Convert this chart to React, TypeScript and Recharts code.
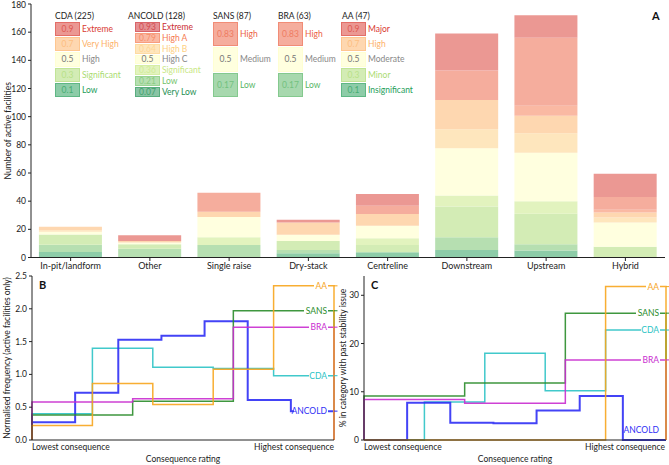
import React from "react";
import { BarChart, Bar, XAxis, YAxis, LineChart, Line, ReferenceDot } from "recharts";

const FONT = "Lato, 'Liberation Sans', Arial, sans-serif";
const INK = "#222";

// Panel A: dam types, stacked by normalised consequence level (bottom -> top)
const damTypes = ["In-pit/landform", "Other", "Single raise", "Dry-stack", "Centreline", "Downstream", "Upstream", "Hybrid"];
const levels = [0.1, 0.21, 0.3, 0.36, 0.5, 0.64, 0.7, 0.79, 0.83, 0.9];
const lvl010 = [3.9, 0, 0, 3.0, 3.7, 5.4, 4.9, 0];
const lvl021 = [5.2, 6.3, 8.9, 2.4, 0, 9.0, 4.5, 0];
const lvl030 = [7.2, 3.1, 0, 6.4, 5.2, 21.9, 21.7, 7.7];
const lvl036 = [0, 0, 5.5, 0, 4.8, 7.8, 8.8, 0];
const lvl050 = [1.9, 1.2, 14.3, 4.3, 8.8, 33.4, 34.5, 17.2];
const lvl064 = [1.2, 0, 0, 0, 0, 13.5, 13.8, 3.5];
const lvl070 = [2.4, 1.2, 3.8, 8.8, 8.4, 20.8, 12.4, 3.6];
const lvl079 = [0, 0, 0, 0, 0, 0, 7.1, 1.9];
const lvl083 = [0, 0, 13.4, 0, 5.9, 20.9, 48.3, 9.1];
const lvl090 = [0, 4.0, 0, 1.9, 8.3, 26.3, 16.0, 16.4];
const levelCounts = [lvl010, lvl021, lvl030, lvl036, lvl050, lvl064, lvl070, lvl079, lvl083, lvl090];
const countTicks = [0, 20, 40, 60, 80, 100, 120, 140, 160, 180];

// legend blocks (classification systems)
const cdaScores = [0.9, 0.7, 0.5, 0.3, 0.1];
const cdaNames = ["Extreme", "Very High", "High", "Significant", "Low"];
const ancoldScores = [0.93, 0.79, 0.64, 0.5, 0.36, 0.21, 0.07];
const ancoldNames = ["Extreme", "High A", "High B", "High C", "Significant", "Low", "Very Low"];
const sansScores = [0.83, 0.5, 0.17];
const sansNames = ["High", "Medium", "Low"];
const braScores = [0.83, 0.5, 0.17];
const braNames = ["High", "Medium", "Low"];
const aaScores = [0.9, 0.7, 0.5, 0.3, 0.1];
const aaNames = ["Major", "High", "Moderate", "Minor", "Insignificant"];

// Panel B: normalised frequency per class (lowest -> highest)
const cdaFreq = [0.40, 1.40, 1.11, 1.09, 0.98];
const ancoldFreq = [0.27, 0.72, 1.53, 1.59, 1.81, 0.61, 0.44];
const sansFreq = [0.38, 0.59, 1.97];
const braFreq = [0.58, 0.63, 1.72];
const aaFreq = [0.22, 0.86, 0.54, 1.08, 2.35];
const freqTicks = [0, 0.5, 1, 1.5, 2, 2.5];

// Panel C: % with past stability issue per class
const cdaPct = [0, 7.9, 18.0, 10.2, 22.8];
const ancoldPct = [0, 7.7, 3.6, 3.45, 6.1, 9.1, 0];
const sansPct = [9.1, 11.8, 26.3];
const braPct = [8.4, 7.6, 16.6];
const aaPct = [0, 0, 0, 0, 31.8];
const pctTicks = [0, 10, 20, 30];

const systems = ["CDA", "ANCOLD", "SANS", "BRA", "AA"];
const sysColors = ["#2cc3c5", "#2f2ff5", "#2a8c2a", "#c92ccf", "#f7a51d"];
const sysWidths = [1.5, 2, 1.5, 1.5, 1.5];

const RDYLGN = ["#a50026", "#d73027", "#f46d43", "#fdae61", "#fee08b", "#ffffbf", "#d9ef8b", "#a6d96a", "#66bd63", "#1a9850", "#006837"];
const hex2rgb = (h: string) => [1, 3, 5].map((i) => parseInt(h.slice(i, i + 2), 16));
function rdylgn(t: number) {
  const p = Math.min(Math.max(t, 0), 1) * 10;
  const i = Math.min(Math.floor(p), 9);
  const f = p - i;
  const a = hex2rgb(RDYLGN[i]);
  const b = hex2rgb(RDYLGN[i + 1]);
  return a.map((c, k) => c + (b[k] - c) * f);
}
// colour for a consequence score (reversed map), blended on white
function tint(v: number, alpha: number) {
  const c = rdylgn(1 - v).map((x) => Math.round(x * alpha + 255 * (1 - alpha)));
  return `rgb(${c.join(",")})`;
}

const barData = damTypes.map((name, i) => {
  const row: any = { name };
  levels.forEach((_, k) => (row[`l${k}`] = levelCounts[k][i]));
  return row;
});

const toSteps = (vals: number[]) => {
  const n = vals.length;
  const pts = [{ x: 0, y: 0 }];
  vals.forEach((v, i) => pts.push({ x: i / n, y: v }));
  pts.push({ x: 1, y: vals[n - 1] });
  pts.push({ x: 1, y: 0 });
  return pts;
};

const SideTitle = ({ viewBox, text, dx }: any) => {
  const cx = viewBox.x + dx;
  const cy = viewBox.y + viewBox.height / 2;
  return (
    <text x={cx} y={cy} transform={`rotate(-90 ${cx} ${cy})`} textAnchor="middle" dominantBaseline="central" fontSize={8.5} fill={INK} fontFamily={FONT}>
      {text}
    </text>
  );
};

const BottomTitle = ({ viewBox, text }: any) => (
  <text x={viewBox.x + viewBox.width / 2} y={viewBox.y + 19} textAnchor="middle" dominantBaseline="central" fontSize={8.5} fill={INK} fontFamily={FONT}>
    {text}
  </text>
);

const ConsTick = ({ x, y, payload }: any) => (
  <text x={x} y={y + 7} textAnchor={payload.value === 0 ? "start" : "end"} dominantBaseline="central" fontSize={8.5} fill={INK} fontFamily={FONT}>
    {payload.value === 0 ? "Lowest consequence" : "Highest consequence"}
  </text>
);

const EndTag = ({ viewBox, text, color, tick }: any) => {
  const x = viewBox.x;
  const y = viewBox.y;
  const w = text.length * 5 + 3;
  return (
    <g>
      <rect x={x - 7 - w} y={y - 5} width={w + 1} height={10} fill="#fff" />
      <text x={x - 7} y={y} textAnchor="end" dominantBaseline="central" fontSize={8.5} fill={color} fontFamily={FONT}>
        {text}
      </text>
      {tick && <line x1={x} x2={x + 3.5} y1={y} y2={y} stroke={color} strokeWidth={1} />}
    </g>
  );
};

const ScaleLegend = ({ left, titleLeft, title, scores, names }: any) => {
  const top = 22;
  const h = 76 / scores.length;
  return (
    <>
      <div style={{ position: "absolute", left: titleLeft, top: 10, fontSize: 8.5, lineHeight: "12px", color: INK, whiteSpace: "nowrap" }}>{title}</div>
      {scores.map((v: number, i: number) => (
        <React.Fragment key={i}>
          <div
            style={{
              position: "absolute", left, top: top + i * h, width: 25, height: h - 1, boxSizing: "border-box",
              background: tint(v, 0.5), border: `1px solid ${tint(v, 0.7)}`,
              display: "flex", alignItems: "center", justifyContent: "center",
              fontSize: 8.5, color: v === 0.5 ? "#777" : tint(v, 0.8),
            }}
          >
            {String(v)}
          </div>
          <div
            style={{
              position: "absolute", left: left + 27, top: top + i * h, height: h - 1,
              display: "flex", alignItems: "center", fontSize: 8.5, whiteSpace: "nowrap",
              color: v === 0.5 ? "#888" : tint(v, 0.95),
            }}
          >
            {names[i]}
          </div>
        </React.Fragment>
      ))}
    </>
  );
};

const frameAxes = [
  <XAxis key="ft" xAxisId="top" orientation="top" type="number" domain={[0, 1]} tick={false} tickLine={false} height={0} axisLine={{ stroke: INK }} />,
  <YAxis key="fr" yAxisId="right" orientation="right" type="number" domain={[0, 1]} tick={false} tickLine={false} width={0} axisLine={{ stroke: INK }} />,
];

const StepPanel = ({ series, ticks, domain, fmt, yTitle, tags, width, yWidth, right }: any) => (
  <LineChart width={width} height={195} margin={{ top: 6, right, left: 0, bottom: 0 }}>
    <XAxis type="number" dataKey="x" domain={[0, 1]} ticks={[0, 1]} tick={<ConsTick />} tickLine={false} tickSize={0} tickMargin={0}
      height={25} axisLine={{ stroke: INK }} label={<BottomTitle text="Consequence rating" />} />
    <YAxis type="number" domain={domain} ticks={ticks} tickFormatter={fmt} tickSize={3} tickMargin={2} width={yWidth}
      tick={{ fontSize: 8.5, fill: INK, fontFamily: FONT }} axisLine={{ stroke: INK }} tickLine={{ stroke: INK }}
      label={<SideTitle text={yTitle} dx={7} />} />
    {frameAxes}
    {series.map((vals: number[], i: number) => (
      <Line key={systems[i]} data={toSteps(vals)} dataKey="y" type="stepAfter" stroke={sysColors[i]} strokeWidth={sysWidths[i]}
        strokeOpacity={0.9} dot={false} activeDot={false} isAnimationActive={false} />
    ))}
    {tags.map((t: any) => (
      <ReferenceDot key={t.name} x={1} y={t.y} r={0} fill="none" stroke="none"
        label={<EndTag text={t.name} color={t.color} tick={t.tick} />} />
    ))}
  </LineChart>
);

const PanelLetter = ({ x, y, ch }: any) => (
  <div style={{ position: "absolute", left: x, top: y, fontWeight: 700, fontSize: 11, lineHeight: "12px", color: "#111" }}>{ch}</div>
);

export default function App() {
  const freqSeries = [cdaFreq, ancoldFreq, sansFreq, braFreq, aaFreq];
  const pctSeries = [cdaPct, ancoldPct, sansPct, braPct, aaPct];
  const freqTags = freqSeries.map((s, i) => ({ name: systems[i], color: sysColors[i], y: s[s.length - 1], tick: true }));
  const pctTags = pctSeries.map((s, i) => ({
    name: systems[i], color: sysColors[i], y: s[s.length - 1] === 0 ? 2.1 : s[s.length - 1], tick: s[s.length - 1] !== 0,
  }));

  return (
    <div style={{ position: "absolute", left: 0, top: 0, width: 669, height: 465, background: "#fff", fontFamily: FONT, overflow: "hidden" }}>
      <div style={{ position: "absolute", left: 0, top: 0 }}>
        <BarChart width={669} height={272} data={barData} margin={{ top: 4, right: 4, left: 0, bottom: 0 }} barCategoryGap="10%">
          <XAxis dataKey="name" height={14.5} tickSize={3.5} tickMargin={1.5} interval={0}
            tick={{ fontSize: 9, fill: INK, fontFamily: FONT }} axisLine={{ stroke: INK }} tickLine={{ stroke: INK }} />
          <YAxis width={31} domain={[0, 180]} ticks={countTicks} tickSize={3} tickMargin={2}
            tick={{ fontSize: 8.5, fill: INK, fontFamily: FONT }} axisLine={{ stroke: INK }} tickLine={{ stroke: INK }}
            label={<SideTitle text="Number of active facilities" dx={8} />} />
          {frameAxes}
          {levels.map((lv, k) => (
            <Bar key={k} dataKey={`l${k}`} stackId="a" fill={tint(lv, 0.5)} isAnimationActive={false} />
          ))}
        </BarChart>
        <ScaleLegend left={55} titleLeft={55} title="CDA (225)" scores={cdaScores} names={cdaNames} />
        <ScaleLegend left={135} titleLeft={128} title="ANCOLD (128)" scores={ancoldScores} names={ancoldNames} />
        <ScaleLegend left={213} titleLeft={213} title="SANS (87)" scores={sansScores} names={sansNames} />
        <ScaleLegend left={278} titleLeft={278} title="BRA (63)" scores={braScores} names={braNames} />
        <ScaleLegend left={341} titleLeft={342} title="AA (47)" scores={aaScores} names={aaNames} />
        <PanelLetter x={652} y={10} ch="A" />
      </div>
      <div style={{ position: "absolute", left: 0, top: 270 }}>
        <StepPanel series={freqSeries} ticks={freqTicks} domain={[0, 2.5]} fmt={(v: number) => v.toFixed(1)}
          yTitle="Normalised frequency (active facilities only)" tags={freqTags} width={340} yWidth={32} right={6} />
      </div>
      <div style={{ position: "absolute", left: 336, top: 270 }}>
        <StepPanel series={pctSeries} ticks={pctTicks} domain={[0, 34]} fmt={(v: number) => String(v)}
          yTitle="% in category with past stability issue" tags={pctTags} width={333} yWidth={28} right={3} />
      </div>
      <PanelLetter x={39} y={279} ch="B" />
      <PanelLetter x={371} y={279} ch="C" />
    </div>
  );
}
